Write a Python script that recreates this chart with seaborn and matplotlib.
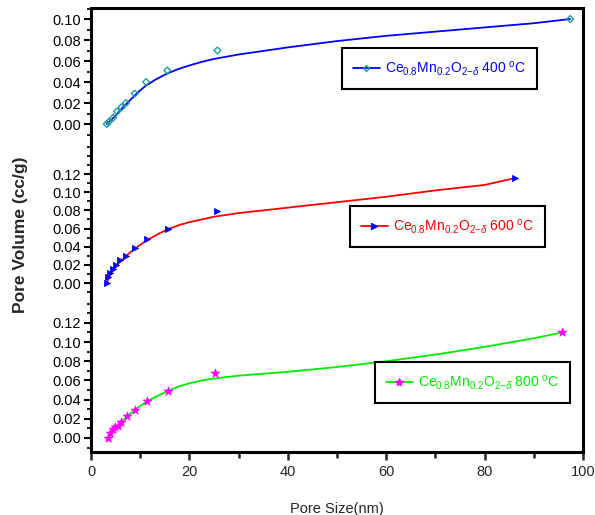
import matplotlib
matplotlib.use("Agg")
import matplotlib.pyplot as plt
from matplotlib.ticker import MultipleLocator
from matplotlib.lines import Line2D
import seaborn as sns

sns.set_theme(style="white")
plt.rcParams['font.family'] = ['Liberation Sans', 'DejaVu Sans']
plt.rcParams['mathtext.fontset'] = 'custom'
plt.rcParams['mathtext.rm'] = 'Liberation Sans'
plt.rcParams['mathtext.it'] = 'Liberation Sans:italic'

# ---- data ----
# 400 C sample
x400 = [3.2, 3.6, 4.5, 5.3, 6.2, 7.1, 8.9, 11.2, 15.5, 25.7, 97.4]
y400 = [0.000, 0.002, 0.006, 0.012, 0.016, 0.020, 0.029, 0.040, 0.051, 0.070, 0.100]
fit400_x = [3.2, 5, 6.5, 8, 9.5, 11, 13, 15, 17.5, 20, 22.5, 25, 30, 40, 50, 60, 70, 80, 90, 97.4]
fit400_y = [0.000, 0.008, 0.016, 0.023, 0.030, 0.036, 0.042, 0.047, 0.052, 0.0558, 0.0592, 0.062,
            0.0662, 0.073, 0.079, 0.084, 0.088, 0.092, 0.096, 0.100]

# 600 C sample
x600 = [3.2, 3.5, 3.9, 4.4, 5.1, 5.9, 7.1, 8.9, 11.3, 15.7, 25.7, 86.2]
y600 = [0.000, 0.007, 0.011, 0.015, 0.020, 0.025, 0.030, 0.039, 0.048, 0.060, 0.079, 0.1156]
fit600_x = [3.2, 4, 5, 6, 7, 8, 9, 10.5, 12, 14, 16, 18, 20, 22.5, 25, 30, 40, 50, 60, 70, 80, 86.2]
fit600_y = [0.000, 0.010, 0.018, 0.024, 0.029, 0.034, 0.038, 0.044, 0.049, 0.055, 0.060, 0.064,
            0.067, 0.070, 0.073, 0.077, 0.083, 0.089, 0.095, 0.102, 0.108, 0.1156]

# 800 C sample
x800 = [3.4, 3.9, 4.4, 4.9, 5.4, 6.0, 7.4, 8.9, 11.3, 15.6, 25.2, 95.7]
y800 = [0.000, 0.005, 0.009, 0.011, 0.0125, 0.017, 0.023, 0.029, 0.0386, 0.049, 0.0675, 0.1106]
fit800_x = [3.4, 5, 7, 9, 10.5, 12, 14, 16, 18, 20, 22.5, 25, 30, 40, 50, 60, 70, 80, 90, 95.7]
fit800_y = [0.000, 0.011, 0.021, 0.030, 0.035, 0.040, 0.045, 0.050, 0.054, 0.057, 0.060, 0.062,
            0.065, 0.069, 0.074, 0.080, 0.087, 0.095, 0.104, 0.110]

labels = [r"Ce$_{0.8}$Mn$_{0.2}$O$_{2\mathrm{-}\delta}$ 400 $^{\mathrm{o}}$C",
          r"Ce$_{0.8}$Mn$_{0.2}$O$_{2\mathrm{-}\delta}$ 600 $^{\mathrm{o}}$C",
          r"Ce$_{0.8}$Mn$_{0.2}$O$_{2\mathrm{-}\delta}$ 800 $^{\mathrm{o}}$C"]

W, H = 595, 515
fig = plt.figure(figsize=(W / 100, H / 100), dpi=100)

def fx(p):
    return p / W

def fy(p):
    return 1 - p / H

left, right = 91, 583
panels = [
    (8, 140, (-0.0152, 0.1105), 0.10),
    (140, 297, (-0.0154, 0.1575), 0.12),
    (297, 452, (-0.0146, 0.147), 0.12),
]
series = [
    (x400, y400, fit400_x, fit400_y, '#0000ff', '#1a9e9e', 'd', 12, labels[0]),
    (x600, y600, fit600_x, fit600_y, '#ff0000', '#0000ff', '>', 20, labels[1]),
    (x800, y800, fit800_x, fit800_y, '#00ee00', '#ff00ff', '*', 45, labels[2]),
]
legend_pos = [(342, 49, 193, 39), (350, 207, 195, 39), (375, 363, 195, 39)]

axes = []
for i, ((top, bot, ylim, ymax), s) in enumerate(zip(panels, series)):
    ax = fig.add_axes([fx(left), fy(bot), fx(right - left), (bot - top) / H])
    axes.append(ax)
    xs, ys, fxs, fys, lc, mc, mk, ms, lab = s
    sns.lineplot(x=fxs, y=fys, ax=ax, color=lc, lw=1.3, sort=False)
    if mk == 'd':
        sns.scatterplot(x=xs, y=ys, ax=ax, marker='D', s=ms, facecolor='none',
                        edgecolor=mc, linewidth=1.0, zorder=5)
    else:
        sns.scatterplot(x=xs, y=ys, ax=ax, marker=mk, s=ms, color=mc,
                        edgecolor=mc, linewidth=0.5, zorder=5)
    ax.set_xlim(0, 100)
    ax.set_ylim(*ylim)
    ax.set_facecolor('white')
    ax.set_xlabel('')
    ax.set_ylabel('')
    ax.yaxis.set_minor_locator(MultipleLocator(0.01))
    yt = [v / 100 for v in range(0, int(round(ymax * 100)) + 1, 2)]
    ax.set_yticks(yt)
    ax.set_yticklabels([f"{v:.2f}" for v in yt])
    ax.tick_params(axis='y', which='major', direction='out', length=5, width=1.5,
                   labelsize=10.5, pad=2, left=True, colors='black')
    ax.tick_params(axis='y', which='minor', direction='out', length=3, width=1.5, left=True)
    for sp in ax.spines.values():
        sp.set_linewidth(2.2)
        sp.set_color('black')
    ax.spines['top'].set_visible(i == 0)
    ax.spines['bottom'].set_visible(i == 2)
    if i < 2:
        ax.tick_params(axis='x', which='both', bottom=False, labelbottom=False)
    else:
        ax.xaxis.set_major_locator(MultipleLocator(20))
        ax.xaxis.set_minor_locator(MultipleLocator(10))
        ax.tick_params(axis='x', which='major', direction='out', length=6, width=1.8,
                       labelsize=10.5, bottom=True, pad=3)
        ax.tick_params(axis='x', which='minor', direction='out', length=4, width=1.8, bottom=True)
    lx, ly, lw, lh = legend_pos[i]
    handle = Line2D([0], [0], color=lc, lw=1.3,
                    marker=('D' if mk == 'd' else mk),
                    markersize=(3 if mk == 'd' else (4.5 if mk == '>' else 6)),
                    markerfacecolor=('none' if mk == 'd' else mc), markeredgecolor=mc)
    leg = ax.legend([handle], [lab], loc='center left',
                    bbox_to_anchor=(fx(lx), fy(ly + lh / 2)), bbox_transform=fig.transFigure,
                    frameon=True, fancybox=False, edgecolor='black', framealpha=1,
                    fontsize=10, labelcolor=lc, handlelength=1.9, handletextpad=0.4,
                    borderpad=0.8, borderaxespad=0)
    leg.get_frame().set_linewidth(1.5)

axes[2].set_xlabel('Pore Size(nm)', fontsize=10.5, labelpad=17)
fig.text(fx(21), fy(235), 'Pore Volume (cc/g)', rotation=90, fontsize=12.5,
         fontweight='bold', ha='center', va='center')

fig.savefig('out.png', dpi=100, facecolor='white')
